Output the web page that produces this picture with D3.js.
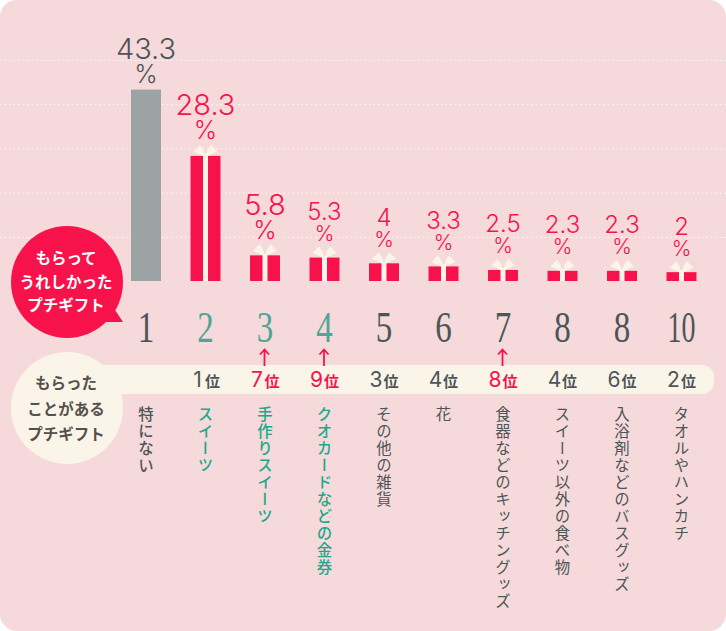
<!DOCTYPE html>
<html lang="ja"><head><meta charset="utf-8">
<script src="https://cdn.jsdelivr.net/npm/d3@7"></script>
<style>
html,body{margin:0;padding:0;background:#fff}
svg{display:block}
.jp{font-family:"Noto Sans CJK JP","Noto Sans",sans-serif}
</style></head><body><svg id="c" width="726" height="631"></svg>
<script>
const categories=["特にない","スイーツ","手作りスイーツ","クオカードなどの金券","その他の雑貨","花","食器などのキッチングッズ","スイーツ以外の食べ物","入浴剤などのバスグッズ","タオルやハンカチ"];
const values=[43.3,28.3,5.8,5.3,4,3.3,2.5,2.3,2.3,2];
const ranks=["1","2","3","4","5","6","7","8","8","10"];
const receivedRanks=[null,1,7,9,3,4,8,4,6,2];
const risers=[2,3,6];
const highlighted=[1,2,3];
const gridTicks=[10,20,30,40,50];
const bubbleTop=["もらって","うれしかった","プチギフト"];
const bubbleBottom=["もらった","ことがある","プチギフト"];

const RED="#f8124b",GRAY="#9ca3a4",DARK="#4c5558",GREEN="#1ba88b",RANKGREEN="#4fa597",CREAM="#fbf4e9",PINK="#f6d9da",BROWN="#55504c";
const W=726,H=631,base=281;
const svg=d3.select("#c");
const x=d3.scaleBand().domain(d3.range(categories.length)).range([116.25,711.25]).paddingInner(0.496).paddingOuter(0.248);
const y=d3.scaleLinear().domain([0,50]).range([base,60]);
const cx=i=>x(i)+x.bandwidth()/2;

svg.append("rect").attr("width",W).attr("height",H).attr("rx",17).attr("fill",PINK);

const grid=svg.append("g").call(d3.axisLeft(y).tickValues(gridTicks).tickSize(-W).tickFormat(""));
grid.select(".domain").remove();
grid.selectAll("line").attr("stroke","#fff").attr("stroke-width",1).attr("stroke-dasharray","1.5 3").attr("opacity",.85);

// bars
const bars=svg.append("g");
values.forEach((v,i)=>{
  const c=cx(i),t=y(v);
  bars.append("rect").attr("x",x(i)).attr("y",t).attr("width",x.bandwidth()).attr("height",base-t).attr("fill",i===0?GRAY:RED);
  if(i===0)return;
  bars.append("path").attr("fill",CREAM).attr("d",
    `M${c},${t+1}L${c-12},${t-4.5}L${c-5.5},${t-11}L${c-2},${t-6}Z`+
    `M${c},${t+1}L${c+12},${t-4.5}L${c+5.5},${t-11}L${c+2},${t-6}Z`);
  bars.append("rect").attr("x",c-2.5).attr("y",t-2).attr("width",5).attr("height",base-t+2).attr("fill",CREAM);
});

// value labels
const valG=svg.append("g").attr("text-anchor","middle").attr("font-family","Inter,'Open Sans',sans-serif").attr("font-weight",300);
values.forEach((v,i)=>{
  const big=v>=5.5, col=i===0?DARK:RED;
  const pctY=y(v)-(i===0?7:16.5);
  valG.append("text").attr("x",cx(i)).attr("y",pctY-(big?24:21)).attr("font-size",big?29:24).attr("fill",col).text(v);
  valG.append("text").attr("x",cx(i)).attr("y",pctY).attr("font-size",big?25:21).attr("fill",col).text("%");
});

// speech bubbles
svg.append("path").attr("fill",RED).attr("d","M115,310L123,322L103,322Z");
svg.append("circle").attr("cx",67).attr("cy",282).attr("r",56).attr("fill",RED);
svg.append("rect").attr("x",80).attr("y",365).attr("width",634).attr("height",29).attr("rx",12).attr("fill",CREAM);
svg.append("circle").attr("cx",67).attr("cy",408).attr("r",56).attr("fill",CREAM);
svg.append("g").attr("class","jp").attr("text-anchor","middle").attr("font-size",15.5).attr("font-weight",700).attr("fill","#fff")
  .selectAll("text").data(bubbleTop).join("text").attr("x",66).attr("y",(d,i)=>264+i*23.5).text(d=>d);
svg.append("g").attr("class","jp").attr("text-anchor","middle").attr("font-size",15.5).attr("font-weight",700).attr("fill",BROWN)
  .selectAll("text").data(bubbleBottom).join("text").attr("x",66).attr("y",(d,i)=>389+i*25.5).text(d=>d);

// rank numerals
svg.append("g").attr("text-anchor","middle").attr("font-family","'Liberation Serif',serif").attr("font-size",44)
  .selectAll("text").data(ranks).join("text").attr("x",(d,i)=>cx(i)).attr("y",342)
  .attr("textLength",d=>d.length>1?28:16.5).attr("lengthAdjust","spacingAndGlyphs")
  .attr("fill",(d,i)=>highlighted.includes(i)?RANKGREEN:DARK).text(d=>d);

// previous ranks
const prev=svg.append("g").attr("class","jp");
receivedRanks.forEach((r,i)=>{
  if(r===null)return;
  const col=risers.includes(i)?RED:DARK;
  prev.append("text").attr("x",cx(i)-8).attr("y",387).attr("text-anchor","middle").attr("font-size",21).attr("font-weight",400).attr("font-family","Inter,sans-serif").attr("fill",col).text(r);
  prev.append("text").attr("x",cx(i)+7).attr("y",387).attr("text-anchor","middle").attr("font-size",15).attr("font-weight",700).attr("fill",col).text("位");
});
// arrows
svg.append("g").attr("fill","none").attr("stroke",RED).attr("stroke-width",1.8)
  .selectAll("path").data(risers).join("path")
  .attr("d",i=>{const c=cx(i)-.5;return `M${c},366V350M${c-4.5},354.5L${c},349.5L${c+4.5},354.5`});

// category labels
svg.append("g").attr("class","jp").selectAll("text").data(categories).join("text")
  .attr("transform",(d,i)=>`translate(${cx(i)},406)`)
  .style("writing-mode","vertical-rl").style("letter-spacing","1.6px")
  .attr("font-size",15.4)
  .attr("font-weight",(d,i)=>(i===0||highlighted.includes(i))?500:400)
  .attr("fill",(d,i)=>highlighted.includes(i)?GREEN:DARK).text(d=>d);
</script></body></html>
